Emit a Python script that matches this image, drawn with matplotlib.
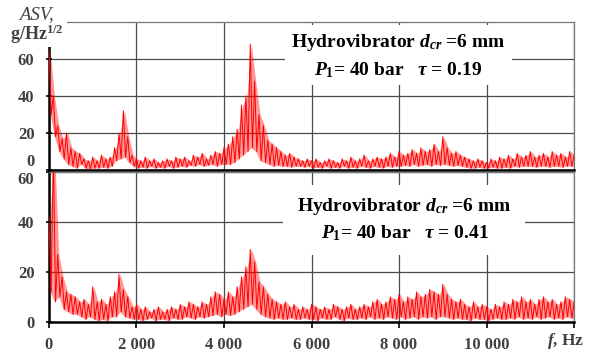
import matplotlib
matplotlib.use("Agg")
import matplotlib.pyplot as plt
import numpy as np
from matplotlib.patches import Rectangle

plt.rcParams["font.family"] = "Liberation Serif"
plt.rcParams["mathtext.fontset"] = "custom"
plt.rcParams["mathtext.it"] = "Liberation Serif:italic:bold"
plt.rcParams["mathtext.rm"] = "Liberation Serif:bold"
plt.rcParams["mathtext.bf"] = "Liberation Serif:bold"

# spectrum envelopes, one value per 100 Hz bin (0..12000 Hz)
freq = np.arange(0, 12001, 100)

top_upper = [65, 40, 24, 17, 20, 12, 10, 9, 6, 5,
             7, 5, 8, 6, 7, 12, 20, 32, 18, 8,
             6, 5, 7, 5, 6, 4, 5, 6, 5, 7,
             6, 7, 5, 8, 7, 9, 6, 8, 10, 9,
             12, 14, 18, 22, 35, 40, 68, 48, 30, 24,
             16, 14, 12, 10, 8, 9, 7, 6, 5, 6,
             5, 6, 4, 5, 6, 5, 4, 6, 5, 7,
             5, 6, 8, 5, 6, 7, 6, 7, 9, 7,
             10, 8, 9, 11, 9, 12, 10, 11, 14, 10,
             18, 12, 9, 10, 8, 7, 6, 5, 6, 5,
             4, 6, 5, 7, 6, 8, 6, 9, 7, 8,
             10, 7, 8, 9, 7, 10, 8, 9, 7, 10,
             8]
top_lower = [30, 18, 10, 6, 3, 2, 1, 3, 1, 0.5,
             1, 1, 1.5, 1, 2, 5, 6, 7, 4, 2,
             1, 1.5, 1, 2, 1, 1.5, 1, 2, 1, 1.5,
             2, 1.5, 2.5, 2, 3, 2, 2.5, 3, 2, 3,
             3, 3, 4, 6, 8, 10, 12, 10, 5, 4,
             3, 2, 2.5, 2, 2, 1.5, 2, 2, 1.5, 2,
             1, 1.5, 1, 2, 1, 1.5, 1, 2, 1, 1.5,
             1, 2, 1.5, 1, 2, 1.5, 1, 2, 1.5, 2,
             2, 2.5, 2, 3, 2, 2.5, 3, 2, 3, 2.5,
             3, 2.5, 2, 2.5, 2, 1.5, 1, 1, 1.5, 1,
             1, 1.5, 1, 1, 1.5, 1, 2, 1.5, 2, 2,
             2, 1.5, 2, 2, 1.5, 2, 2, 1.5, 2, 2,
             2]

bot_upper = [42, 70, 27, 18, 12, 11, 10, 8, 9, 7,
             14, 8, 9, 7, 10, 12, 19, 13, 10, 6,
             7, 5, 6, 4, 5, 6, 4, 5, 6, 5,
             7, 6, 8, 7, 6, 8, 7, 10, 12, 11,
             9, 12, 10, 14, 18, 22, 29, 24, 16, 14,
             11, 9, 8, 7, 8, 6, 7, 5, 6, 5,
             7, 6, 5, 6, 5, 7, 6, 5, 6, 7,
             5, 6, 7, 6, 8, 9, 7, 8, 10, 9,
             11, 8, 10, 9, 12, 10, 11, 13, 12, 11,
             15, 11, 9, 8, 9, 7, 6, 8, 6, 7,
             6, 5, 7, 6, 8, 7, 9, 8, 10, 8,
             9, 7, 9, 10, 8, 9, 7, 8, 10, 9,
             8]
bot_lower = [12, 8, 10, 5, 4, 3, 3, 2, 1, 2,
             1, 0.5, 1, 0.5, 2, 2, 4, 2, 1.5, 1,
             1, 0.5, 1, 1.5, 0.5, 1, 1, 0.5, 1.5, 1,
             1, 2, 1.5, 1, 2, 1.5, 2, 2.5, 3, 2,
             3, 2.5, 3, 4, 5, 6, 7, 5, 3, 2,
             1.5, 1, 1.5, 1, 1, 1.5, 1, 1, 1.5, 1,
             1, 0.5, 1.5, 1, 1, 2, 1, 0.5, 1.5, 1,
             1, 1.5, 1, 2, 1, 1.5, 1, 2, 1.5, 1,
             2, 1, 1.5, 2, 1, 2, 1.5, 2, 1, 2,
             2, 1.5, 1, 1.5, 1, 1, 0.5, 1.5, 1, 1,
             0.5, 1, 1.5, 1, 1, 1.5, 1, 2, 1, 1.5,
             1, 2, 1, 1.5, 2, 1, 1.5, 1, 2, 1.5,
             1]

x_ticks = [0, 2000, 4000, 6000, 8000, 10000, 12000]
x_labels = ["0", "2 000", "4 000", "6 000", "8 000", "10 000", ""]
y_ticks = [0, 20, 40, 60]

TICK_COLOR = "#404040"
GRID_COLOR = "#4a4a4a"
RED = "#ff0000"


def zigzag(upper, lower):
    # draw each bin as a stroke from its upper to its lower value
    x = np.column_stack([freq, freq + 50]).ravel()
    y = np.column_stack([upper, lower]).ravel()
    return x, y


def style(ax, ymax):
    ax.set_xlim(0, 12000)
    ax.set_ylim(0, ymax)
    ax.set_xticks(x_ticks)
    ax.set_yticks(y_ticks)
    ax.set_axisbelow(True)
    ax.grid(True, color=GRID_COLOR, lw=0.9)
    for s in ("top", "right"):
        ax.spines[s].set_color("#777777")
        ax.spines[s].set_linewidth(0.9)
    for s in ("left", "bottom"):
        ax.spines[s].set_color("black")
        ax.spines[s].set_linewidth(1.8)
    ax.tick_params(axis="y", direction="inout", length=5, width=1.2, pad=8,
                   labelsize=12, labelcolor=TICK_COLOR)
    for lab in ax.get_yticklabels():
        lab.set_fontweight("bold")


fig = plt.figure(figsize=(5.9, 3.58), dpi=100)
ax1 = fig.add_axes([0.083, 0.525, 0.890, 0.414])
ax2 = fig.add_axes([0.083, 0.101, 0.890, 0.419])

for ax, up, lo, ymax in [(ax1, top_upper, top_lower, 80), (ax2, bot_upper, bot_lower, 60)]:
    ax.fill_between(freq + 25, lo, up, color=RED, alpha=0.4, lw=0, zorder=2)
    x, y = zigzag(up, lo)
    ax.plot(x, y, color=RED, lw=0.7, zorder=3)
    style(ax, ymax)

# keep the "0" of the top panel and the "60" of the bottom one apart
ax1.get_yticklabels()[0].set_va("bottom")
ax2.get_yticklabels()[-1].set_va("top")

ax1.tick_params(axis="x", length=0, labelbottom=False)
ax2.tick_params(axis="x", direction="out", length=4, width=1.2, pad=7,
                labelsize=12, labelcolor=TICK_COLOR)
ax2.set_xticklabels(x_labels, fontweight="bold")
fig.text(0.958, 0.047, "$f$, Hz", ha="center", va="center", fontsize=12.5,
         fontweight="bold", color=TICK_COLOR)

# white boxes behind the annotations
for (x0, y0, w, h) in [(0.483, 0.763, 0.385, 0.167), (0.480, 0.288, 0.410, 0.195),
                       (0.060, 0.869, 0.054, 0.090)]:
    fig.add_artist(Rectangle((x0, y0), w, h, transform=fig.transFigure,
                             facecolor="white", edgecolor="none", zorder=2.6))

txt = dict(ha="center", va="center", fontsize=14, fontweight="bold", zorder=4)
fig.text(0.675, 0.880, "Hydrovibrator $d_{cr}$ =6 mm", **txt)
fig.text(0.675, 0.804, r"$P_1$= 40 bar   $\tau$ = 0.19", **txt)
fig.text(0.686, 0.422, "Hydrovibrator $d_{cr}$ =6 mm", **txt)
fig.text(0.686, 0.349, r"$P_1$= 40 bar   $\tau$ = 0.41", **txt)

fig.text(0.062, 0.960, "ASV,", ha="center", va="center", fontsize=13.5,
         fontstyle="italic", color="#404040", zorder=4)
fig.text(0.062, 0.905, "g/Hz$^{1/2}$", ha="center", va="center", fontsize=13,
         fontweight="bold", color="#404040", zorder=4)

fig.savefig("out.png", dpi=100)
